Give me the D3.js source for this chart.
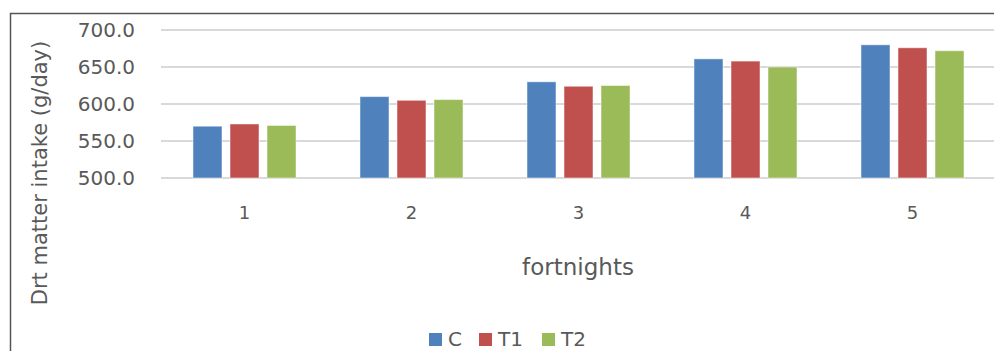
<!DOCTYPE html>
<html>
<head>
<meta charset="utf-8">
<script src="https://cdn.jsdelivr.net/npm/d3@7"></script>
<style>
  html, body { margin: 0; padding: 0; background: #fff; overflow: hidden; }
  svg { display: block; }
</style>
</head>
<body>
<svg id="chart" width="994" height="351"></svg>
<script>
// Dry matter intake per fortnight for each treatment
const fortnights = ["1", "2", "3", "4", "5"];
const seriesNames = ["C", "T1", "T2"];
const valuesC  = [570, 610, 630, 661, 680];
const valuesT1 = [573, 605, 624, 658, 676];
const valuesT2 = [571, 606, 625, 650, 672];
const yTicks = [500, 550, 600, 650, 700];
const colors = ["#4f81bd", "#c0504d", "#9bbb59"];

const seriesValues = [valuesC, valuesT1, valuesT2];
const rows = fortnights.map((f, i) => ({
  key: f,
  vals: seriesNames.map((s, j) => ({ series: s, value: seriesValues[j][i], color: colors[j] }))
}));

const svg = d3.select("#chart");
const plot = { left: 161, right: 996, top: 30, bottom: 178 };
const textColor = "#595959";
const font = "'DejaVu Sans', sans-serif";

// outer chart frame
svg.append("rect")
  .attr("x", 10.5).attr("y", 13.5)
  .attr("width", 1100).attr("height", 500)
  .attr("fill", "none")
  .attr("stroke", "#555")
  .attr("stroke-width", 1.5);

const x0 = d3.scaleBand().domain(fortnights)
  .range([plot.left, plot.right])
  .paddingInner(0.383).paddingOuter(0.1915);
const x1 = d3.scaleBand().domain(seriesNames)
  .range([0, x0.bandwidth()])
  .paddingInner(0.216);
const y = d3.scaleLinear().domain([500, 700]).range([plot.bottom, plot.top]);

// horizontal gridlines
svg.append("g").selectAll("line").data(yTicks).join("line")
  .attr("x1", plot.left).attr("x2", plot.right)
  .attr("y1", d => y(d)).attr("y2", d => y(d))
  .attr("stroke", "#d9d9d9").attr("stroke-width", 2);

// y axis labels
const yAxis = svg.append("g")
  .attr("transform", `translate(${plot.left},0)`)
  .call(d3.axisLeft(y).tickValues(yTicks).tickFormat(d3.format(".1f")).tickSize(0).tickPadding(26));
yAxis.select(".domain").remove();
yAxis.selectAll("text")
  .attr("fill", textColor)
  .style("font-family", font)
  .style("font-size", "20px");

// bars
const groups = svg.append("g").selectAll("g").data(rows).join("g")
  .attr("transform", d => `translate(${x0(d.key)},0)`);
groups.selectAll("rect").data(d => d.vals).join("rect")
  .attr("x", d => x1(d.series))
  .attr("y", d => y(d.value))
  .attr("width", x1.bandwidth())
  .attr("height", d => y(500) - y(d.value))
  .attr("fill", d => d.color)
  .attr("stroke", "#fff")
  .attr("stroke-opacity", 0.5)
  .attr("stroke-width", 1);

// x axis labels
const xAxis = svg.append("g")
  .attr("transform", `translate(0,${plot.bottom})`)
  .call(d3.axisBottom(x0).tickSize(0).tickPadding(28));
xAxis.select(".domain").remove();
xAxis.selectAll("text")
  .attr("fill", textColor)
  .style("font-family", font)
  .style("font-size", "18px");

// axis titles
svg.append("text")
  .attr("x", 578).attr("y", 275)
  .attr("text-anchor", "middle")
  .attr("fill", textColor)
  .style("font-family", font)
  .style("font-size", "23px")
  .text("fortnights");

svg.append("text")
  .attr("transform", "translate(47,173) rotate(-90)")
  .attr("text-anchor", "middle")
  .attr("fill", textColor)
  .style("font-family", font)
  .style("font-size", "21px")
  .text("Drt matter intake (g/day)");

// legend
const legendX = [429, 479, 542];
const legend = svg.append("g").selectAll("g").data(seriesNames).join("g")
  .attr("transform", (d, i) => `translate(${legendX[i]},333)`);
legend.append("rect")
  .attr("width", 13).attr("height", 13)
  .attr("fill", (d, i) => colors[i]);
legend.append("text")
  .attr("x", 19).attr("y", 13)
  .attr("fill", textColor)
  .style("font-family", font)
  .style("font-size", "20px")
  .text(d => d);
</script>
</body>
</html>
